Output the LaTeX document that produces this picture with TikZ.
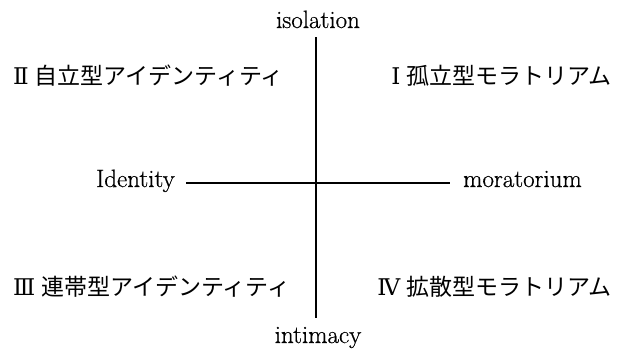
\documentclass[tikz,border=0pt]{standalone}
\usepackage{fontspec}
\newfontfamily\cjk{Noto Sans CJK JP}
\newfontfamily\lat{Latin Modern Roman}[FakeBold=0.6]
\newfontfamily\rnum{DejaVu Serif}
\newcommand\rn[1]{{\rnum #1}\hspace{6pt}}
\begin{document}
\begin{tikzpicture}[x=1pt,y=-1pt,
  lab/.style={inner sep=0pt,font=\lat\fontsize{25}{25}\selectfont},
  quad/.style={inner sep=0pt,font=\cjk\fontsize{23}{23}\selectfont},
  axisv/.style={line width=2.6pt},
  axish/.style={line width=1.8pt}]
\useasboundingbox (0,0) rectangle (625,356);
\node[lab,anchor=base] (iso) at (318,28) {isolation};
\node[lab,anchor=base] (inti) at (318,343) {intimacy};
\node[lab,anchor=base east] (ide) at (175,187) {Identity};
\node[lab,anchor=base west] (mor) at (463,187) {moratorium};
\coordinate (vt) at (316,37);
\coordinate (vb) at (316,318);
\coordinate (hl) at (186,183);
\coordinate (hr) at (450,183);
\draw[axisv] (vt) -- (vb);
\draw[axish] (hl) -- (hr);
\node[quad,anchor=west] (q2) at (13,76) {\rn{Ⅱ}自立型アイデンティティ};
\node[quad,anchor=east] (q1) at (612,76) {\rn{Ⅰ}孤立型モラトリアム};
\node[quad,anchor=west] (q3) at (13,287) {\rn{Ⅲ}連帯型アイデンティティ};
\node[quad,anchor=east] (q4) at (612,287) {\rn{Ⅳ}拡散型モラトリアム};
\end{tikzpicture}
\end{document}
